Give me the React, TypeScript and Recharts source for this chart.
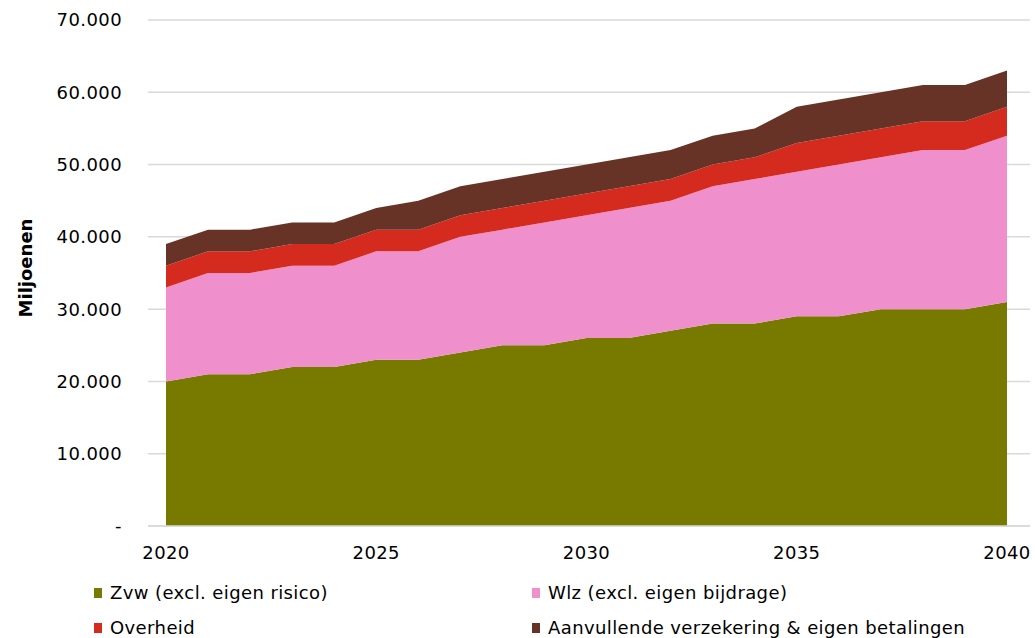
import React from 'react';
import { AreaChart, Area, XAxis, YAxis, CartesianGrid, Legend } from 'recharts';

const years = [2020, 2021, 2022, 2023, 2024, 2025, 2026, 2027, 2028, 2029, 2030, 2031, 2032, 2033, 2034, 2035, 2036, 2037, 2038, 2039, 2040];
const zvw = [20000, 21000, 21000, 22000, 22000, 23000, 23000, 24000, 25000, 25000, 26000, 26000, 27000, 28000, 28000, 29000, 29000, 30000, 30000, 30000, 31000];
const wlz = [13000, 14000, 14000, 14000, 14000, 15000, 15000, 16000, 16000, 17000, 17000, 18000, 18000, 19000, 20000, 20000, 21000, 21000, 22000, 22000, 23000];
const overheid = [3000, 3000, 3000, 3000, 3000, 3000, 3000, 3000, 3000, 3000, 3000, 3000, 3000, 3000, 3000, 4000, 4000, 4000, 4000, 4000, 4000];
const aanvullend = [3000, 3000, 3000, 3000, 3000, 3000, 4000, 4000, 4000, 4000, 4000, 4000, 4000, 4000, 4000, 5000, 5000, 5000, 5000, 5000, 5000];

const xTicks = [2020, 2025, 2030, 2035, 2040];
const yTicks = [0, 10000, 20000, 30000, 40000, 50000, 60000, 70000];
const yTickLabels = ['-', '10.000', '20.000', '30.000', '40.000', '50.000', '60.000', '70.000'];

const seriesNames = ['Zvw (excl. eigen risico)', 'Wlz (excl. eigen bijdrage)', 'Overheid', 'Aanvullende verzekering & eigen betalingen'];
const seriesKeys = ['zvw', 'wlz', 'overheid', 'aanvullend'];
const seriesColors = ['#787A00', '#EF8FCB', '#D52B1E', '#673327'];

const data = years.map((y, i) => ({
  year: y,
  zvw: zvw[i],
  wlz: wlz[i],
  overheid: overheid[i],
  aanvullend: aanvullend[i],
}));

const FONT = "'DejaVu Sans', Verdana, sans-serif";
const LS = 0.4;

const renderLegend = () => {
  const cols = [94, 532];
  const rows = [593, 628];
  return (
    <div style={{ position: 'relative', width: 1035, height: 63, fontFamily: FONT, fontSize: 18, letterSpacing: LS, color: '#000' }}>
      {seriesNames.map((name, i) => {
        const col = cols[i % 2];
        const row = rows[Math.floor(i / 2)] - 578;
        return (
          <div key={name} style={{ position: 'absolute', left: col, top: row - 10, height: 20, display: 'flex', alignItems: 'center', whiteSpace: 'nowrap' }}>
            <span style={{ display: 'inline-block', width: 8, height: 10, background: seriesColors[i], marginRight: 8 }} />
            <span style={{ lineHeight: '20px' }}>{name}</span>
          </div>
        );
      })}
    </div>
  );
};

const YLabel = () => (
  <text
    x={25}
    y={268}
    transform="rotate(-90, 25, 268)"
    textAnchor="middle"
    dominantBaseline="central"
    style={{ fontFamily: FONT, fontSize: 18, fontWeight: 'bold', fill: '#000' }}
  >
    Miljoenen
  </text>
);

export default function App() {
  return (
    <div style={{ position: 'absolute', left: 0, top: 0, width: 1035, height: 638, background: '#fff' }}>
      <AreaChart
        width={1035}
        height={638}
        data={data}
        margin={{ top: 20, right: 5, bottom: 72, left: 0 }}
      >
        <CartesianGrid vertical={false} stroke="#D9D9D9" strokeWidth={1.5} />
        <XAxis
          dataKey="year"
          type="number"
          domain={[2020, 2040]}
          ticks={xTicks}
          padding={{ left: 18, right: 23 }}
          axisLine={{ stroke: '#D9D9D9', strokeWidth: 1.5 }}
          tickLine={false}
          tickMargin={14}
          tick={{ fill: '#000', fontSize: 18, fontFamily: FONT, letterSpacing: LS }}
          height={40}
        />
        <YAxis
          domain={[0, 70000]}
          ticks={yTicks}
          interval={0}
          width={148}
          axisLine={false}
          tickLine={false}
          tickMargin={20}
          tickFormatter={(v: number) => yTickLabels[yTicks.indexOf(v)]}
          tick={{ fill: '#000', fontSize: 18, fontFamily: FONT, letterSpacing: LS }}
          label={{ content: YLabel }}
        />
        {seriesKeys.map((k, i) => (
          <Area
            key={k}
            type="linear"
            dataKey={k}
            name={seriesNames[i]}
            stackId="1"
            stroke="none"
            fill={seriesColors[i]}
            fillOpacity={1}
            isAnimationActive={false}
          />
        ))}
        <Legend
          layout="vertical"
          align="center"
          verticalAlign="middle"
          content={renderLegend}
          wrapperStyle={{ top: 578, left: 0, width: 1035, height: 63 }}
        />
      </AreaChart>
    </div>
  );
}
